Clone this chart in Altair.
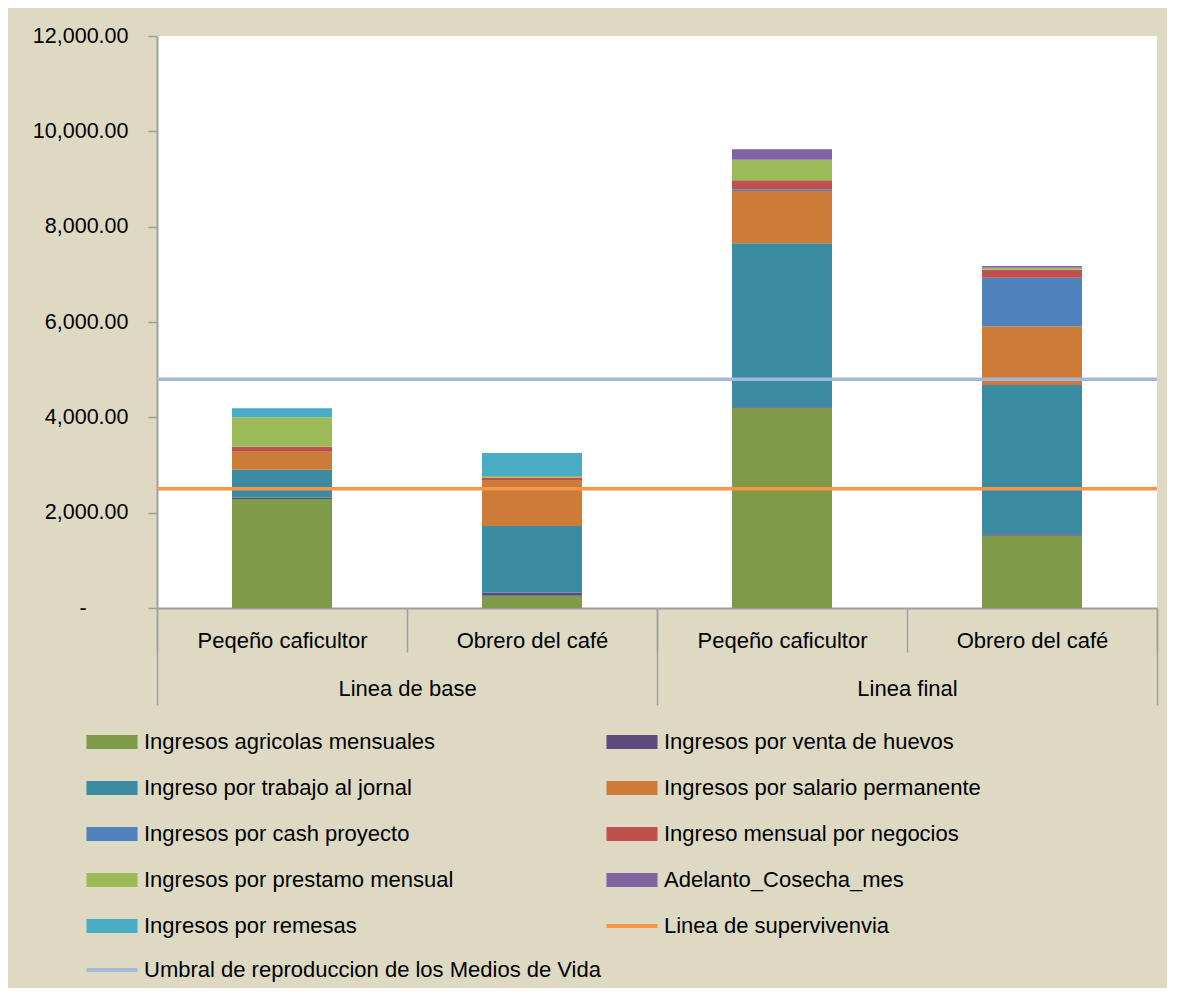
import altair as alt
import pandas as pd

# ---------------- data ----------------
grupos = ["Linea de base", "Linea de base", "Linea final", "Linea final"]
categorias = ["Peqeño caficultor", "Obrero del café", "Peqeño caficultor", "Obrero del café"]

series = [
    "Ingresos agricolas mensuales",
    "Ingresos por venta de huevos",
    "Ingreso por trabajo al jornal",
    "Ingresos por salario permanente",
    "Ingresos por cash proyecto",
    "Ingreso mensual por negocios",
    "Ingresos por prestamo mensual",
    "Adelanto_Cosecha_mes",
    "Ingresos por remesas",
]
agricolas = [2287, 258, 4202, 1517]
huevos = [30, 63, 15, 29]
jornal = [585, 1399, 3433, 3132]
salario = [378, 965, 1098, 1231]
cash = [0, 0, 35, 1020]
negocios = [105, 49, 189, 168]
prestamo = [616, 35, 433, 40]
adelanto = [0, 0, 217, 37]
remesas = [189, 483, 0, 0]
valores_series = [agricolas, huevos, jornal, salario, cash, negocios, prestamo, adelanto, remesas]

lineas = ["Linea de supervivenvia", "Umbral de reproduccion de los Medios de Vida"]
lineas_valores = [2500, 4800]

colores = ["#7F9A48", "#604A7B", "#3B8BA3", "#CC7B38", "#4F81BD", "#C0504D",
           "#9BBB59", "#8064A2", "#4BACC6", "#F79646", "#A5B8D8"]

y_ticks = [0, 2000, 4000, 6000, 8000, 10000, 12000]

# ---------------- tables ----------------
claves = [g + "|" + c for g, c in zip(grupos, categorias)]
grupos_unicos = list(dict.fromkeys(grupos))

rows = []
for i, (s, vals) in enumerate(zip(series, valores_series)):
    for k, v in zip(claves, vals):
        rows.append({"clave": k, "serie": s, "valor": v, "orden": i})
df_bars = pd.DataFrame(rows)

rows_l = []
for s, v in zip(lineas, lineas_valores):
    for g in grupos_unicos:
        rows_l.append({"grupo": g, "serie": s, "valor": v})
df_lines = pd.DataFrame(rows_l)

dominio = series + lineas

FONT = "Liberation Sans"
GRAY = "#A0A0A0"
W, H = 1000, 572

is_line = "(datum.value == '%s' || datum.value == '%s')" % (lineas[0], lineas[1])
rect_path = "M-2.94,-0.62H2.94V0.62H-2.94Z"
line_path = "M-3.19,0H3.19"
zero_label = "-" + "\u00a0" * 7 + "\u200b"


def make_chart(fancy):
    legend_kwargs = dict(
        title=None, orient="none", legendX=-56, legendY=695, columns=2,
        direction="horizontal",
        columnPadding=-3, rowPadding=20, symbolSize=256, labelOffset=21,
        labelFontSize=22, labelFont=FONT, labelColor="#000000", labelLimit=700,
        padding=0, symbolOpacity=1,
    )
    if fancy:
        legend_kwargs["symbolType"] = alt.ExprRef(
            "%s ? '%s' : '%s'" % (is_line, line_path, rect_path))
        legend_kwargs["symbolStrokeColor"] = alt.ExprRef("scale('color', datum.value)")
        legend_kwargs["symbolStrokeWidth"] = 4
    else:
        legend_kwargs["symbolType"] = "M-3.19,-0.87H3.19V0.87H-3.19Z"
        legend_kwargs["symbolStrokeWidth"] = 0
    leyenda = alt.Legend(**legend_kwargs)

    color = alt.Color("serie:N", scale=alt.Scale(domain=dominio, range=colores), legend=leyenda)

    y_enc = alt.Y(
        "valor:Q", stack="zero",
        scale=alt.Scale(domain=[0, 12000], nice=False),
        axis=alt.Axis(
            title=None, values=y_ticks, grid=False,
            labelExpr="datum.value == 0 ? '%s' : format(datum.value, ',.2f')" % zero_label,
            labelFont=FONT, labelFontSize=21.5, labelColor="#000000",
            tickSize=9, tickColor=GRAY, tickWidth=1.5, labelPadding=20,
            domainColor=GRAY, domainWidth=2,
        ),
    )

    bars = alt.Chart(df_bars).mark_bar(width=alt.RelativeBandSize(0.4)).encode(
        x=alt.X(
            "clave:N",
            scale=alt.Scale(domain=claves, paddingInner=0, paddingOuter=0),
            axis=alt.Axis(
                orient="bottom", title=None, labelAngle=0,
                labelExpr="split(datum.label, '|')[1]",
                tickBand="extent", tickSize=44, tickColor=GRAY, tickWidth=1.5,
                domainColor=GRAY, domainWidth=2,
                labelFont=FONT, labelFontSize=22, labelColor="#000000",
                labelBaseline="middle", labelPadding=-12, labelLimit=400,
                labelOverlap=False, grid=False,
            ),
        ),
        y=y_enc,
        color=color,
        order=alt.Order("orden:Q", sort="ascending"),
    )

    lines = alt.Chart(df_lines).mark_tick(size=W / 2, thickness=3.5, opacity=1).encode(
        x=alt.X(
            "grupo:N",
            scale=alt.Scale(domain=grupos_unicos, paddingInner=0, paddingOuter=0),
            axis=alt.Axis(
                orient="bottom", title=None, labelAngle=0, domain=False,
                tickBand="extent", tickSize=97, tickColor=GRAY, tickWidth=1.5,
                labelFont=FONT, labelFontSize=22, labelColor="#000000",
                labelBaseline="middle", labelPadding=-17, labelLimit=400,
                labelOverlap=False, grid=False,
            ),
        ),
        y=alt.Y("valor:Q"),
        color=alt.Color("serie:N"),
    )

    chart = (
        alt.layer(bars, lines)
        .resolve_scale(x="independent")
        .properties(
            width=W, height=H,
            padding={"left": 149, "top": 28, "right": 10, "bottom": 380},
            autosize=alt.AutoSizeParams(type="none"),
            background="#DDD9C3",
        )
        .configure(font=FONT)
        .configure_view(fill="white", stroke=None, strokeWidth=0)
    )
    return chart


try:
    chart = make_chart(True)
    chart.to_dict()
except Exception:
    chart = make_chart(False)

chart.save("out.html", embed_options={"renderer": "svg", "actions": False})
